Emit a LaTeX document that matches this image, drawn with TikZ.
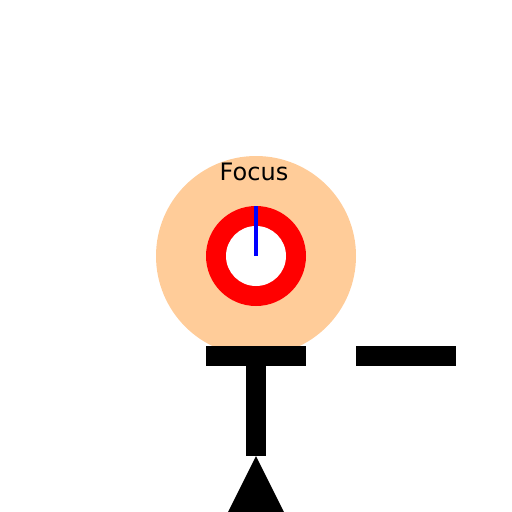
\documentclass[tikz,border=0pt]{standalone}
\usepackage{fontspec}
\setmainfont{DejaVu Sans}
\usetikzlibrary{positioning}
\definecolor{peach}{HTML}{FFCC99}
\newcommand{\ringcolor}{red}
\tikzstyle{bar}=[fill=black]
\tikzstyle{every node}=[font=\fontsize{24}{28}\selectfont, inner sep=0, outer sep=0]

\begin{document}
\begin{tikzpicture}[x=1pt, y=-1pt]
    \useasboundingbox (0, 0) rectangle (512, 512);
    % lens
    \fill[peach] (256, 256) circle (100pt);
    \fill[\ringcolor] (256, 256) circle (50pt);
    \fill[white] (256, 256) circle (30pt);
    \draw[blue, line width=4.5pt] (256, 206) -- (256, 256);
    \node[anchor=base] (focus) at (254, 180) {Focus};
    % stand
    \fill[bar] (206, 346) rectangle (306, 366);
    \fill[bar] (356, 346) rectangle (456, 366);
    \fill[bar] (246, 366) rectangle (266, 456);
    \fill[bar] (256, 456) -- (284, 512) -- (228, 512) -- cycle;
\end{tikzpicture}
\end{document}
